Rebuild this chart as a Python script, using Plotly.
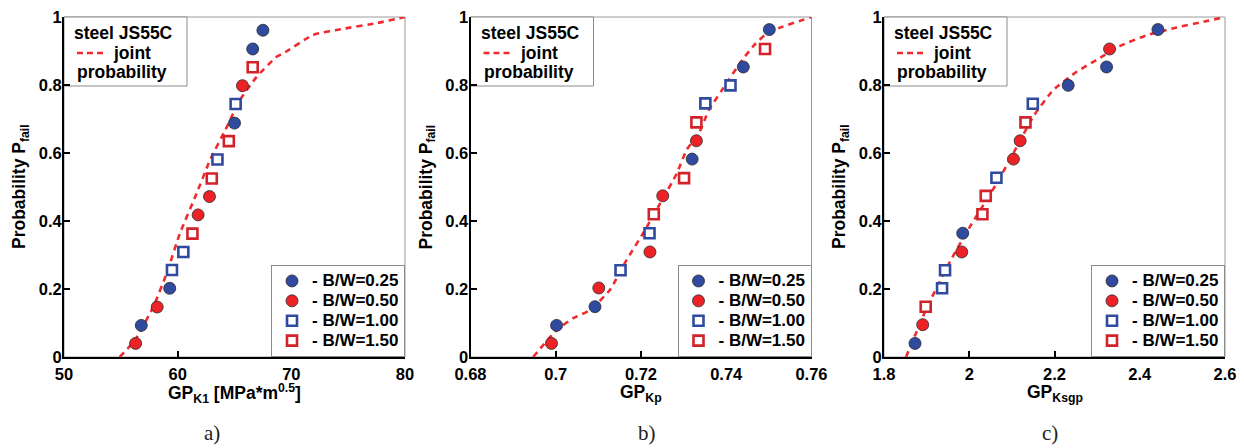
import plotly.graph_objects as go

# ---------------- data ----------------
series_names = ["- B/W=0.25", "- B/W=0.50", "- B/W=1.00", "- B/W=1.50"]
y_ticks = [0, 0.2, 0.4, 0.6, 0.8, 1]

# panel a) GP_K1
a_x_bw025 = [56.8, 59.3, 65.0, 66.6, 67.5]
a_p_bw025 = [0.093, 0.202, 0.688, 0.906, 0.961]
a_x_bw050 = [56.3, 58.2, 61.8, 62.8, 65.7]
a_p_bw050 = [0.040, 0.147, 0.418, 0.472, 0.798]
a_x_bw100 = [59.5, 60.5, 63.5, 65.1]
a_p_bw100 = [0.256, 0.309, 0.581, 0.744]
a_x_bw150 = [61.3, 63.0, 64.5, 66.6]
a_p_bw150 = [0.363, 0.525, 0.635, 0.852]
a_curve_x = [54.9, 56.25, 57.86, 59.03, 60.2, 61.67, 62.84, 64.2, 65.48, 66.95, 68.7, 69.3, 71.9, 74.5, 77.5, 80.0]
a_curve_p = [0.0, 0.05, 0.148, 0.246, 0.364, 0.481, 0.579, 0.668, 0.756, 0.824, 0.883, 0.893, 0.947, 0.965, 0.982, 1.0]
a_ticks = [50, 60, 70, 80]

# panel b) GP_Kp
b_x_bw025 = [0.7002, 0.7092, 0.7320, 0.7440, 0.7501]
b_p_bw025 = [0.093, 0.148, 0.582, 0.853, 0.963]
b_x_bw050 = [0.6990, 0.7101, 0.7221, 0.7251, 0.7330]
b_p_bw050 = [0.040, 0.203, 0.309, 0.474, 0.636]
b_x_bw100 = [0.7152, 0.7220, 0.7351, 0.7410]
b_p_bw100 = [0.255, 0.364, 0.746, 0.799]
b_x_bw150 = [0.7230, 0.7301, 0.7330, 0.7491]
b_p_bw150 = [0.420, 0.526, 0.690, 0.906]
b_curve_x = [0.6947, 0.7002, 0.7041, 0.7080, 0.7127, 0.7166, 0.7205, 0.7245, 0.7284, 0.7307,
             0.7336, 0.7359, 0.7390, 0.7437, 0.7469, 0.7500, 0.7531, 0.7600]
b_curve_p = [0.0, 0.079, 0.114, 0.138, 0.197, 0.285, 0.364, 0.452, 0.540, 0.609,
             0.658, 0.726, 0.785, 0.873, 0.922, 0.956, 0.971, 1.0]
b_ticks = [0.68, 0.70, 0.72, 0.74, 0.76]

# panel c) GP_Ksgp
c_x_bw025 = [1.8728, 1.9847, 2.2321, 2.3221, 2.4427]
c_p_bw025 = [0.040, 0.364, 0.799, 0.853, 0.963]
c_x_bw050 = [1.8908, 1.9824, 2.1037, 2.1194, 2.3292]
c_p_bw050 = [0.095, 0.309, 0.582, 0.636, 0.906]
c_x_bw100 = [1.9362, 1.9432, 2.0638, 2.1491]
c_p_bw100 = [0.202, 0.255, 0.527, 0.745]
c_x_bw150 = [1.8978, 2.0309, 2.0387, 2.1319]
c_p_bw150 = [0.148, 0.420, 0.474, 0.690]
c_curve_x = [1.8517, 1.9002, 1.9550, 2.0020, 2.0646, 2.1115, 2.150, 2.197, 2.252, 2.299,
             2.354, 2.416, 2.479, 2.549, 2.600]
c_curve_p = [0.0, 0.144, 0.281, 0.384, 0.511, 0.618, 0.707, 0.785, 0.839, 0.874,
             0.915, 0.946, 0.967, 0.986, 1.0]
c_ticks = [1.8, 2.0, 2.2, 2.4, 2.6]

x_titles = ["GP<sub>K1</sub> [MPa*m<sup>0.5</sup>]", "GP<sub>Kp</sub>", "GP<sub>Ksgp</sub>"]
panel_labels = ["a)", "b)", "c)"]
box_title = "steel JS55C"

# ---------------- styling ----------------
OFF = 8                      # page body margin of the browser
W, H = 1244 - OFF, 448 - OFF
BLUE = "#2F4A9E"
RED = "#EC2227"
RED_SQ = "#D2222A"
CURVE = "#EF2B2F"
FONT = "Liberation Sans"
TXT = 17.5

panels = [
    dict(series=[(a_x_bw025, a_p_bw025), (a_x_bw050, a_p_bw050), (a_x_bw100, a_p_bw100), (a_x_bw150, a_p_bw150)],
         curve=(a_curve_x, a_curve_p), ticks=a_ticks, rng=[50, 80], px=(64, 405)),
    dict(series=[(b_x_bw025, b_p_bw025), (b_x_bw050, b_p_bw050), (b_x_bw100, b_p_bw100), (b_x_bw150, b_p_bw150)],
         curve=(b_curve_x, b_curve_p), ticks=b_ticks, rng=[0.68, 0.76], px=(470.5, 811.5)),
    dict(series=[(c_x_bw025, c_p_bw025), (c_x_bw050, c_p_bw050), (c_x_bw100, c_p_bw100), (c_x_bw150, c_p_bw150)],
         curve=(c_curve_x, c_curve_p), ticks=c_ticks, rng=[1.8, 2.6], px=(884, 1225)),
]
PY_TOP, PY_BOT = 17 - OFF, 357 - OFF
plot_w = 341.0
plot_h = PY_BOT - PY_TOP

marker_styles = [
    dict(symbol="circle", size=12, color=BLUE, line=dict(color="#2a2a2a", width=0.8)),
    dict(symbol="circle", size=12, color=RED, line=dict(color="#2a2a2a", width=0.8)),
    dict(symbol="square", size=10, color="white", line=dict(color=BLUE, width=2.6)),
    dict(symbol="square", size=10, color="white", line=dict(color=RED_SQ, width=2.6)),
]

fig = go.Figure()
layout = dict(
    width=W, height=H, margin=dict(l=0, r=0, t=0, b=0, autoexpand=False),
    paper_bgcolor="white", plot_bgcolor="white", showlegend=True,
    font=dict(family=FONT, color="black"),
)
shapes, annotations = [], []

for i, p in enumerate(panels):
    n = "" if i == 0 else str(i + 1)
    xa, ya = "x" + n, "y" + n
    leg = "legend" + n
    fig.add_trace(go.Scatter(x=p["curve"][0], y=p["curve"][1], mode="lines", xaxis=xa, yaxis=ya,
                             line=dict(color=CURVE, width=2.6, dash="6px,5px", shape="spline", smoothing=0.5),
                             showlegend=False, hoverinfo="skip"))
    for (sx, sy), name, ms in zip(p["series"], series_names, marker_styles):
        fig.add_trace(go.Scatter(x=sx, y=sy, mode="markers", xaxis=xa, yaxis=ya,
                                 name="<span style='font-size:17px'>" + name + "</span>",
                                 marker=ms, legend=leg, showlegend=True))
    x0px, x1px = p["px"][0] - OFF, p["px"][1] - OFF
    axis_common = dict(showline=True, linecolor="black", linewidth=2, ticks="inside", ticklen=6,
                       tickwidth=2, tickcolor="black", showgrid=False, zeroline=False, automargin=False,
                       ticklabeloverflow="allow",
                       tickfont=dict(family=FONT, size=16.5, color="black", weight="bold"))
    layout["xaxis" + n] = dict(domain=[x0px / W, x1px / W], range=p["rng"], anchor=ya,
                               tickvals=p["ticks"], ticklabelstandoff=1, **axis_common)
    layout["yaxis" + n] = dict(domain=[(H - PY_BOT) / H, (H - PY_TOP) / H], range=[0, 1], anchor=xa,
                               tickvals=y_ticks, ticklabelstandoff=-3, **axis_common)
    shapes.append(dict(type="rect", xref=xa + " domain", yref=ya + " domain", x0=0, x1=1, y0=0, y1=1,
                       line=dict(color="#9a9a9a", width=1), layer="below"))
    shapes.append(dict(type="rect", xref=xa + " domain", yref=ya + " domain",
                       x0=0, x1=123 / plot_w, y0=1 - 69 / plot_h, y1=1,
                       line=dict(color="#8c8c8c", width=1), fillcolor="white", layer="below"))
    shapes.append(dict(type="line", xref=xa + " domain", yref=ya + " domain",
                       x0=13 / plot_w, x1=41 / plot_w, y0=1 - 36 / plot_h, y1=1 - 36 / plot_h,
                       line=dict(color=CURVE, width=2.6, dash="6px,4px")))
    tf = dict(family=FONT, size=TXT, color="black", weight="bold")
    annotations += [
        dict(text=box_title, xref=xa + " domain", yref=ya + " domain", x=8 / plot_w, y=1 - 16 / plot_h,
             xanchor="left", yanchor="middle", showarrow=False, font=tf),
        dict(text="joint", xref=xa + " domain", yref=ya + " domain", x=47 / plot_w, y=1 - 36 / plot_h,
             xanchor="left", yanchor="middle", showarrow=False, font=tf),
        dict(text="probability", xref=xa + " domain", yref=ya + " domain", x=11 / plot_w, y=1 - 55 / plot_h,
             xanchor="left", yanchor="middle", showarrow=False, font=tf),
        dict(text="Probability P<sub>fail</sub>", xref=xa + " domain", yref=ya + " domain",
             x=-44 / plot_w, y=0.5, xanchor="center", yanchor="middle", textangle=-90, showarrow=False,
             font=dict(family=FONT, size=17.5, color="black", weight="bold")),
        dict(text=x_titles[i], xref=xa + " domain", yref=ya + " domain",
             x=0.5, y=-36 / plot_h, xanchor="center", yanchor="middle", showarrow=False,
             font=dict(family=FONT, size=17.5, color="black", weight="bold")),
    ]
    layout[leg] = dict(x=x1px / W, xanchor="right", y=(H - PY_BOT) / H, yanchor="bottom",
                       bgcolor="white", bordercolor="#8c8c8c", borderwidth=1,
                       font=dict(family=FONT, size=13, color="black", weight="bold"),
                       tracegroupgap=0, itemwidth=30, traceorder="normal")

for lab, cx in zip(panel_labels, [212, 647, 1050]):
    annotations.append(dict(text=lab, xref="paper", yref="paper", x=(cx - OFF) / W, y=1 - (433 - OFF) / H,
                            xanchor="center", yanchor="middle", showarrow=False,
                            font=dict(family="Liberation Serif", size=21, color="#222")))

layout["shapes"] = shapes
layout["annotations"] = annotations
fig.update_layout(**layout)
fig.write_html("out.html")
